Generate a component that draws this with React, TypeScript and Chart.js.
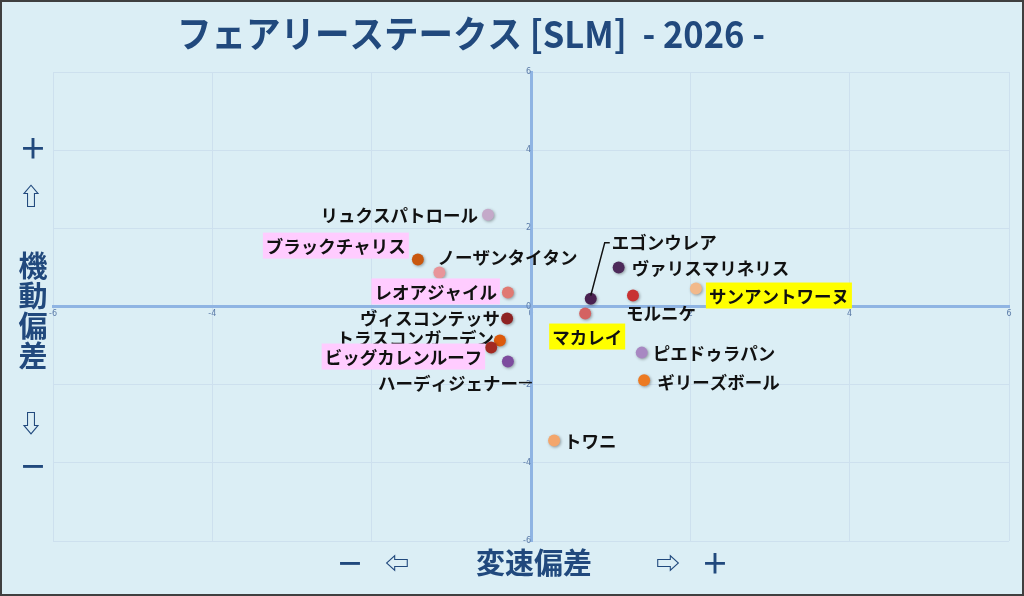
import React, { useEffect, useRef } from "react";
import { Chart, registerables, Plugin } from "chart.js";

Chart.register(...registerables);

const horses = [
  "リュクスパトロール", "ブラックチャリス", "ノーザンタイタン", "レオアジャイル",
  "ヴィスコンテッサ", "トラスコンガーデン", "ビッグカレンルーフ", "ハーディジェナー",
  "エゴンウレア", "ヴァリスマリネリス", "モルニケ", "サンアントワーヌ",
  "マカレイ", "ピエドゥラパン", "ギリーズボール", "トワニ",
];
// 変速偏差 (x)
const speedDev = [-0.54, -1.42, -1.15, -0.29, -0.30, -0.39, -0.50, -0.29,
  0.75, 1.10, 1.28, 2.07, 0.68, 1.39, 1.42, 0.29];
// 機動偏差 (y)
const mobilityDev = [2.35, 1.20, 0.87, 0.36, -0.31, -0.87, -1.05, -1.41,
  0.20, 1.00, 0.28, 0.46, -0.18, -1.18, -1.89, -3.43];
const axisTicks = [-6, -4, -2, 0, 2, 4, 6];

const pointColors = [
  "#c4a9c9", "#c9570e", "#e8959a", "#e07a72", "#8e2323", "#dc5a0c", "#a22a22", "#7d4c9e",
  "#4a2150", "#4d2a5a", "#c83232", "#f2b98c", "#d46262", "#a888c2", "#ec7a22", "#f3a66c",
];
// label placement: [dx, dy, align, box] box 0 none, 1 pink, 2 yellow
const labelPlace: [number, number, "left" | "right", number][] = [
  [-10, 0, "right", 0], [-12, -14, "right", 1], [-2, -16, "left", 0], [-11, -1, "right", 1],
  [-7, -1, "right", 0], [-6, -3, "right", 0], [-9, 9, "right", 1], [10, 21, "right", 0],
  [21, -57, "left", 0], [13, 0, "left", 0], [-7, 17, "left", 0], [13, 7, "left", 2],
  [-33, 23, "left", 2], [11, 0, "left", 0], [13, 1, "left", 0], [10, 0, "left", 0],
];
const leaders: Record<number, number[][]> = {
  8: [[0, -3], [14, -56], [19, -56]],
  7: [[11, 21], [24, 21]],
};

const NAVY = "#21497d";
const JP = "'Noto Sans CJK JP', 'Noto Sans', sans-serif";

const labelPlugin: Plugin = {
  id: "labels",
  beforeDatasetsDraw(chart) {
    const ctx = chart.ctx;
    ctx.save();
    ctx.shadowColor = "rgba(0,0,0,0.35)";
    ctx.shadowBlur = 3;
    ctx.shadowOffsetX = 1;
    ctx.shadowOffsetY = 1;
  },
  afterDatasetsDraw(chart) {
    const ctx = chart.ctx;
    ctx.restore();
    const meta = chart.getDatasetMeta(0);
    ctx.save();
    ctx.font = `bold 17.5px ${JP}`;
    ctx.textBaseline = "middle";
    meta.data.forEach((el: any, i: number) => {
      const [dx, dy, align, box] = labelPlace[i];
      const text = horses[i];
      const w = ctx.measureText(text).width;
      const ax = el.x + dx;
      const cy = el.y + dy;
      const left = align === "left" ? ax : ax - w;
      if (box) {
        ctx.fillStyle = box === 1 ? "#ffccff" : "#ffff00";
        ctx.fillRect(left - 3, cy - 13, w + 6, 26);
      }
      ctx.fillStyle = "#111111";
      ctx.textAlign = "left";
      ctx.fillText(text, left, cy + 1);
      const path = leaders[i];
      if (path) {
        ctx.strokeStyle = "#111111";
        ctx.lineWidth = 1.5;
        ctx.beginPath();
        path.forEach(([px, py], k) => {
          if (k === 0) ctx.moveTo(el.x + px, el.y + py);
          else ctx.lineTo(el.x + px, el.y + py);
        });
        ctx.stroke();
      }
    });
    ctx.restore();
  },
  afterDraw(chart) {
    const ctx = chart.ctx;
    ctx.save();
    ctx.fillStyle = NAVY;
    ctx.textBaseline = "middle";
    ctx.textAlign = "left";
    // title, condensed to the reference width
    const title = "フェアリーステークス [SLM]  - 2026 -";
    ctx.font = `bold 37px ${JP}`;
    const tw = ctx.measureText(title).width;
    ctx.save();
    ctx.translate(177, 34);
    ctx.scale(588 / tw, 1);
    ctx.fillText(title, 0, 0);
    ctx.restore();

    ctx.textAlign = "center";
    const side: [string, number, number, number][] = [
      ["＋", 33, 148, 28], ["⇧", 31, 196, 24],
      ["機", 33, 266, 29], ["動", 33, 296, 29], ["偏", 33, 326, 29], ["差", 33, 356, 29],
      ["⇩", 31, 423, 24], ["－", 33, 466, 28],
      ["－", 350, 563, 28], ["⇦", 397, 563, 24], ["変速偏差", 534, 563, 29],
      ["⇨", 668, 563, 24], ["＋", 715, 563, 28],
    ];
    side.forEach(([t, x, y, s]) => {
      ctx.font = `bold ${s}px ${JP}`;
      ctx.fillText(t, x, y);
    });
    ctx.restore();
  },
};

export default function App() {
  const canvas = useRef<HTMLCanvasElement>(null);

  useEffect(() => {
    document.body.style.margin = "0";
    const ctxt = canvas.current!.getContext("2d")!;
    const tickStyle = {
      font: { size: 8, family: "'DejaVu Sans', sans-serif" },
      color: "#5b7ba8",
      padding: 3,
    };
    const chart = new Chart(ctxt, {
      type: "scatter",
      data: {
        datasets: [{
          data: speedDev.map((x, i) => ({ x, y: mobilityDev[i] })),
          pointBackgroundColor: pointColors,
          pointBorderWidth: 0,
          pointRadius: 6,
          pointHoverRadius: 6,
        }],
      },
      options: {
        responsive: false,
        animation: false,
        layout: { padding: { left: 53, top: 72, right: 15, bottom: 55 } },
        plugins: {
          legend: { display: false },
          tooltip: { enabled: false },
        },
        scales: {
          x: {
            type: "linear",
            min: -6, max: 6,
            position: { y: 0 },
            afterBuildTicks: (s: any) => { s.ticks = axisTicks.map((v) => ({ value: v })); },
            ticks: tickStyle,
            grid: { color: "#cde0ee", drawTicks: false },
            border: { color: "#8fb4e3", width: 3 },
          },
          y: {
            type: "linear",
            min: -6, max: 6,
            position: { x: 0 },
            afterBuildTicks: (s: any) => { s.ticks = axisTicks.map((v) => ({ value: v })); },
            ticks: tickStyle,
            grid: { color: "#cde0ee", drawTicks: false },
            border: { color: "#8fb4e3", width: 3 },
          },
        },
      },
      plugins: [labelPlugin],
    });
    return () => chart.destroy();
  }, []);

  return (
    <div style={{ position: "relative", width: 1024, height: 596, background: "#dbeef5" }}>
      <canvas ref={canvas} width={1024} height={596}
        style={{ position: "absolute", left: 0, top: 0 }} />
      <div style={{
        position: "absolute", inset: 0, border: "2px solid #3f3f3f",
        boxSizing: "border-box", pointerEvents: "none",
      }} />
    </div>
  );
}
